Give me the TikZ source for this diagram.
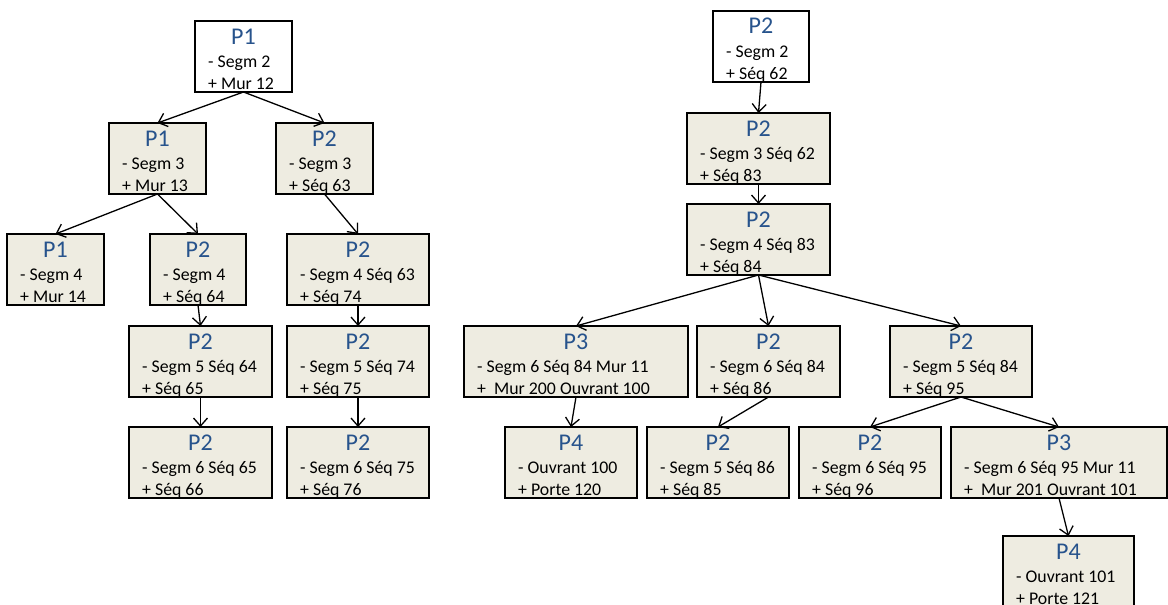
\documentclass[tikz,border=0pt]{standalone}
\usepackage{fontspec}
\setmainfont{Carlito}
\usetikzlibrary{arrows.meta}
\definecolor{boxfill}{HTML}{EEECE1}
\definecolor{ttlblue}{HTML}{27538C}
\tikzset{
  boxshape/.style={draw=black, line width=1.5pt, rectangle, inner sep=0pt, outer sep=0pt},
  ttl/.style={font=\fontsize{24}{28}\selectfont, text=ttlblue, inner sep=0pt},
  bdy/.style={font=\fontsize{17.8}{21}\selectfont, text=black, inner sep=0pt},
  conn/.style={draw=black, line width=1.3pt, -{Straight Barb[length=8pt, width=14pt, line width=1.3pt]}}
}
\newcommand{\bx}[9]{%
  \node[boxshape, fill=#6, anchor=north west, minimum width={(#4-#2)*1pt}, minimum height={(#5-#3)*1pt}] (#1) at (#2,#3) {};
  \node[ttl, anchor=base] (#1t) at ([yshift=-23pt]#1.north) {#7};
  \node[bdy, anchor=base west] (#1a) at ([xshift=13pt,yshift=-46.7pt]#1.north west) {#8};
  \node[bdy, anchor=base west] (#1b) at ([xshift=13pt,yshift=-68pt]#1.north west) {#9};
}
\begin{document}
\begin{tikzpicture}[x=1pt, y=-1pt]
\useasboundingbox[fill=white] (0,0) rectangle (1168,605);
% left tree
\bx{L0}{195}{21}{292}{92}{white}{P1}{- Segm 2}{+ Mur 12}
\bx{L1a}{109}{123}{206}{194}{boxfill}{P1}{- Segm 3}{+ Mur 13}
\bx{L1b}{276}{123}{373}{194}{boxfill}{P2}{- Segm 3}{+ Séq 63}
\bx{L2a}{7}{234}{104}{305}{boxfill}{P1}{- Segm 4}{+ Mur 14}
\bx{L2b}{150}{234}{246}{305}{boxfill}{P2}{- Segm 4}{+ Séq 64}
\bx{L2c}{287}{234}{429}{305}{boxfill}{P2}{- Segm 4 Séq 63}{+ Séq 74}
\bx{L3a}{129}{326}{272}{397}{boxfill}{P2}{- Segm 5 Séq 64}{+ Séq 65}
\bx{L3b}{287}{326}{429}{397}{boxfill}{P2}{- Segm 5 Séq 74}{+ Séq 75}
\bx{L4a}{129}{427}{272}{498}{boxfill}{P2}{- Segm 6 Séq 65}{+ Séq 66}
\bx{L4b}{287}{427}{429}{498}{boxfill}{P2}{- Segm 6 Séq 75}{+ Séq 76}
% right tree
\bx{R0}{713}{11}{809}{82}{white}{P2}{- Segm 2}{+ Séq 62}
\bx{R1}{687}{113}{830}{184}{boxfill}{P2}{- Segm 3 Séq 62}{+ Séq 83}
\bx{R2}{687}{204}{830}{275}{boxfill}{P2}{- Segm 4 Séq 83}{+ Séq 84}
\bx{R3a}{464}{326}{688}{397}{boxfill}{P3}{- Segm 6 Séq 84 Mur 11}{+\ \ Mur 200 Ouvrant 100}
\bx{R3b}{697}{326}{840}{397}{boxfill}{P2}{- Segm 6 Séq 84}{+ Séq 86}
\bx{R3c}{890}{326}{1032}{397}{boxfill}{P2}{- Segm 5 Séq 84}{+ Séq 95}
\bx{R4a}{505}{427}{637}{498}{boxfill}{P4}{- Ouvrant 100}{+ Porte 120}
\bx{R4b}{647}{427}{789}{498}{boxfill}{P2}{- Segm 5 Séq 86}{+ Séq 85}
\bx{R4c}{799}{427}{941}{498}{boxfill}{P2}{- Segm 6 Séq 95}{+ Séq 96}
\bx{R4d}{951}{427}{1167}{498}{boxfill}{P3}{- Segm 6 Séq 95 Mur 11}{+\ \ Mur 201 Ouvrant 101}
\bx{R5}{1003}{536}{1134}{607}{boxfill}{P4}{- Ouvrant 101}{+ Porte 121}
% connectors
\draw[conn] (L0.south) -- (L1a.north);
\draw[conn] (L0.south) -- (L1b.north);
\draw[conn] (L1a.south) -- (L2a.north);
\draw[conn] (L1a.south) -- (L2b.north);
\draw[conn] (L1b.south) -- (L2c.north);
\draw[conn] (L2b.south) -- (L3a.north);
\draw[conn] (L2c.south) -- (L3b.north);
\draw[conn] (L3a.south) -- (L4a.north);
\draw[conn] (L3b.south) -- (L4b.north);
\draw[conn] (R0.south) -- (R1.north);
\draw[conn] (R1.south) -- (R2.north);
\draw[conn] (R2.south) -- (R3a.north);
\draw[conn] (R2.south) -- (R3b.north);
\draw[conn] (R2.south) -- (R3c.north);
\draw[conn] (R3a.south) -- (R4a.north);
\draw[conn] (R3b.south) -- (R4b.north);
\draw[conn] (R3c.south) -- (R4c.north);
\draw[conn] (R3c.south) -- (R4d.north);
\draw[conn] (R4d.south) -- (R5.north);
\end{tikzpicture}
\end{document}
